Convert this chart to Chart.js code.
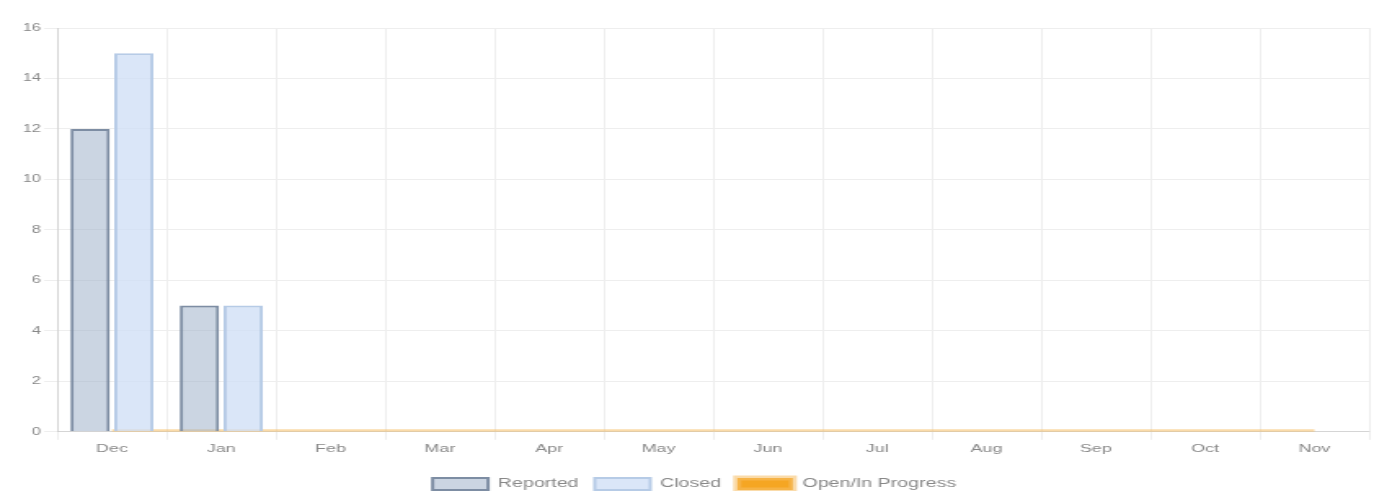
<!DOCTYPE html>
<html>
<head>
<meta charset="utf-8">
<script src="https://cdn.jsdelivr.net/npm/chart.js@4.4.1/dist/chart.umd.min.js"></script>
<style>
  html, body { margin: 0; padding: 0; background: #fff; overflow: hidden; }
  #wrap { width: 1387px; height: 491px; }
  /* the reference is a narrower render stretched sideways */
  #chart { transform: scaleX(1.6318); transform-origin: 0 0; }
</style>
</head>
<body>
<div id="wrap"><canvas id="chart" width="850" height="491"></canvas></div>
<script>
// data
const months = ["Dec", "Jan", "Feb", "Mar", "Apr", "May", "Jun", "Jul", "Aug", "Sep", "Oct", "Nov"];
const reported = [12, 5, 0, 0, 0, 0, 0, 0, 0, 0, 0, 0];
const closed = [15, 5, 0, 0, 0, 0, 0, 0, 0, 0, 0, 0];
const openInProgress = [0, 0, 0, 0, 0, 0, 0, 0, 0, 0, 0, 0];
const yTicks = [0, 2, 4, 6, 8, 10, 12, 14, 16];

Chart.defaults.font.family = "'Liberation Sans', Arial, sans-serif";
Chart.defaults.font.size = 11;
Chart.defaults.color = "#888";

new Chart(document.getElementById("chart").getContext("2d"), {
  type: "bar",
  data: {
    labels: months,
    datasets: [
      {
        label: "Reported",
        data: reported,
        backgroundColor: "rgba(160,178,202,0.55)",
        borderColor: "#7d8da3",
        borderWidth: 2,
        order: 1
      },
      {
        label: "Closed",
        data: closed,
        backgroundColor: "rgba(205,222,245,0.75)",
        borderColor: "#b6cbe6",
        borderWidth: 2,
        order: 1
      },
      {
        type: "line",
        label: "Open/In Progress",
        data: openInProgress,
        backgroundColor: "#f5a623",
        borderColor: "rgba(245,190,100,0.55)",
        borderWidth: 5,
        pointRadius: 0,
        order: 2
      }
    ]
  },
  options: {
    responsive: false,
    animation: false,
    layout: { padding: { left: 12, right: 11, top: 28, bottom: -9 } },
    plugins: {
      legend: {
        position: "bottom",
        labels: { boxWidth: 34, boxHeight: 12, color: "#888", font: { size: 12 }, padding: 10 }
      },
      tooltip: { enabled: false }
    },
    scales: {
      x: {
        grid: { color: "#eeeeee", offset: true },
        ticks: { color: "#888", font: { size: 11 } },
        afterFit: (scale) => { scale.height += 9; }
      },
      y: {
        min: yTicks[0],
        max: yTicks[yTicks.length - 1],
        afterBuildTicks: (scale) => { scale.ticks = yTicks.map(v => ({ value: v })); },
        ticks: { color: "#888", font: { size: 10 }, padding: 2 },
        grid: { color: "#eeeeee" }
      }
    }
  }
});
</script>
</body>
</html>
